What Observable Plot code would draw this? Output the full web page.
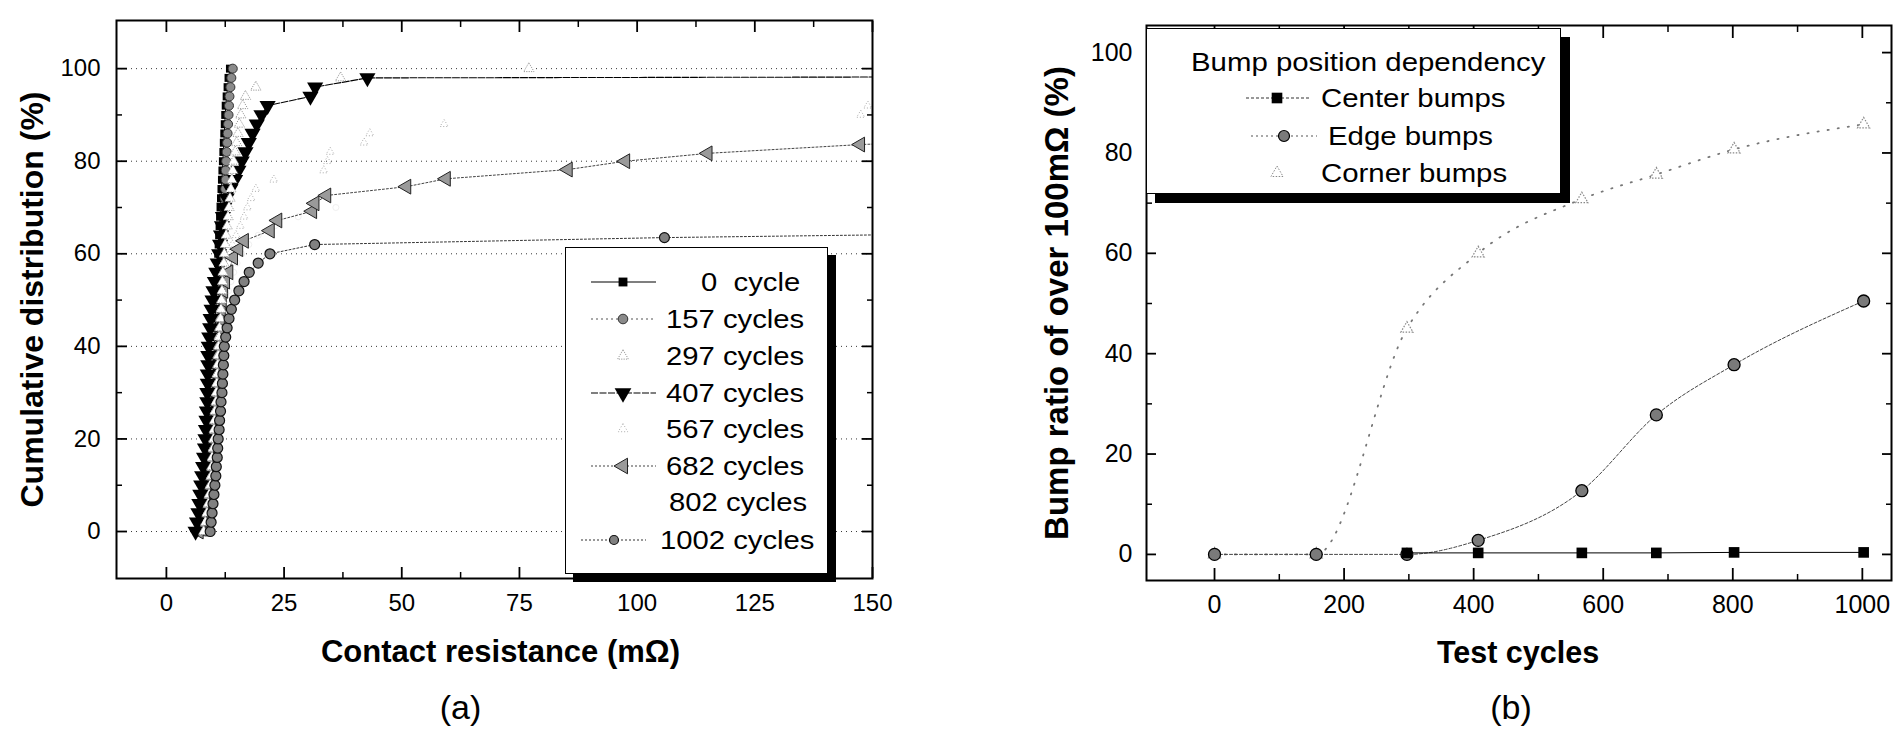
<!DOCTYPE html>
<html><head><meta charset="utf-8">
<script src="https://cdn.jsdelivr.net/npm/d3@7"></script>
<script src="https://cdn.jsdelivr.net/npm/@observablehq/plot@0.6"></script>
<style>
html,body{margin:0;padding:0;background:#fff;}
body{width:1900px;height:731px;position:relative;overflow:hidden;font-family:"Liberation Sans",Arial,sans-serif;color:#000;}
#a,#b{position:absolute;top:0;}
#a{left:0;} #b{left:950px;}
svg{overflow:visible;}
.legend{position:absolute;background:#fff;border:1.5px solid #000;box-sizing:border-box;}
.ltxt{position:absolute;white-space:pre;line-height:1;display:inline-block;transform-origin:0 50%;}
.lsym{position:absolute;overflow:visible;}
</style></head><body>
<div id="a"></div><div id="b"></div>
<div id="legA" class="legend"></div>
<div id="legB" class="legend"></div>
<script>
// ---------- Panel (a) data: cumulative distribution of contact resistance ----------
const pct = [0,2,4,6,8,10,12,14,16,18,20,22,24,26,28,30,32,34,36,38,40,42,44,46,48,50,52,54,56,58,60,62,64,66,68,70,72,74,76,78,80,82,84,86,88,90,92,94,96,98,100];
const r0    = [7.6,8.0,8.3,8.5,8.7,8.9,9.0,9.1,9.2,9.3,9.4,9.5,9.6,9.7,9.7,9.8,9.9,10.0,10.0,10.1,10.2,10.3,10.4,10.4,10.5,10.6,10.7,10.8,10.9,11.0,11.0,11.1,11.2,11.3,11.4,11.5,11.6,11.7,11.8,11.9,12.0,12.1,12.2,12.3,12.4,12.5,12.6,12.8,13.0,13.2,13.5];
const r157  = [8.4,8.8,9.1,9.3,9.5,9.7,9.8,9.9,10.0,10.1,10.2,10.3,10.4,10.5,10.6,10.7,10.8,10.8,10.9,11.0,11.1,11.2,11.3,11.3,11.4,11.5,11.6,11.7,11.7,11.8,11.9,12.0,12.1,12.1,12.2,12.3,12.4,12.5,12.6,12.6,12.7,12.8,12.9,13.0,13.1,13.2,13.3,13.4,13.6,13.8,14.1];
const r297  = [7.9,8.3,8.6,8.9,9.1,9.3,9.5,9.6,9.7,9.9,10.0,10.1,10.2,10.3,10.5,10.6,10.7,10.8,10.9,11.0,11.1,11.2,11.3,11.5,11.6,11.7,11.8,11.9,12.0,12.2,12.3,12.5,12.7,12.9,13.1,13.3,13.5,13.7,13.9,14.1,14.3,14.6,14.9,15.2,15.5,15.8,16.2,16.8,19.0,37.0,77.0];
const r407  = [6.2,6.5,6.8,7.0,7.2,7.4,7.6,7.8,8.0,8.2,8.3,8.4,8.5,8.6,8.7,8.7,8.8,8.8,8.9,8.9,9.0,9.1,9.3,9.4,9.6,9.8,10.0,10.3,10.6,10.9,11.2,11.4,11.6,11.8,12.0,12.3,12.8,13.6,14.6,15.3,16.0,16.8,17.5,18.3,19.2,20.2,21.5,30.6,31.6,42.7,1200];
const r567  = [7.2,7.6,8.0,8.3,8.5,8.7,8.9,9.1,9.3,9.4,9.6,9.7,9.9,10.0,10.2,10.3,10.5,10.6,10.8,11.0,11.1,11.3,11.5,11.7,11.9,12.1,12.3,12.5,12.8,13.1,13.4,14.0,14.8,15.7,16.5,17.2,18.0,19.0,22.8,33.4,34.2,34.8,42.0,43.2,59.0,147.5,149.0,190,260,400,900];
const p682  = [0,2,4,6,8,10,12,14,16,18,20,22,24,26,28,30,32,34,36,38,40,42,44,46,48,50,52,54,56,59.2,61,62.8,65,67.2,69.2,70.9,72.6,74.5,76.2,78.2,80,81.7,83.6,85.5];
const r682  = [6.9,7.3,7.7,8.0,8.2,8.4,8.6,8.8,9.0,9.1,9.3,9.4,9.6,9.7,9.9,10.0,10.2,10.3,10.5,10.6,10.8,11.0,11.2,11.4,11.6,11.8,12.1,12.5,13.2,14.2,15.3,16.5,22.0,23.6,31.0,31.5,34.0,51.0,59.4,85.3,97.5,115,147.4,200];
const r802  = [7.4,7.9,8.2,8.5,8.7,8.9,9.1,9.3,9.4,9.6,9.8,9.9,10.1,10.2,10.4,10.6,10.7,10.9,11.1,11.3,11.5,11.7,11.9,12.2,12.5,12.8,13.2,13.7,14.3,15.0,16.0,17.5,19.5,23.0,28.0,36.0];
const p1002 = [0,2,4,6,8,10,12,14,16,18,20,22,24,26,28,30,32,34,36,38,40,42,44,46,48,50,52,54,56,58,60,62,63.5,66];
const r1002 = [9.3,9.5,9.7,9.9,10.1,10.3,10.5,10.6,10.8,10.9,11.0,11.2,11.3,11.5,11.6,11.8,11.9,12.0,12.1,12.2,12.3,12.6,12.9,13.3,13.8,14.5,15.4,16.5,17.6,19.5,22.0,31.5,105.8,300];
const seriesLabelsA = ["0  cycle","157 cycles","297 cycles","407 cycles","567 cycles","682 cycles","802 cycles","1002 cycles"];
const xTicksA = [0,25,50,75,100,125,150];
const xMinorA = [12.5,37.5,62.5,87.5,112.5,137.5];
const yTicksA = [0,20,40,60,80,100];
const yMinorA = [10,30,50,70,90];
const xTitleA = "Contact resistance (mΩ)";
const yTitleA = "Cumulative distribution (%)";

// ---------- Panel (b) data: bump ratio over 100 mΩ ----------
const cycles = [0,157,297,407,567,682,802,1002];
const centerCycles = [297,407,567,682,802,1002];
const centerBumps = [0.3,0.3,0.3,0.3,0.4,0.4];
const edgeBumps   = [0,0,0,2.8,12.7,27.8,37.8,50.5];
const cornerBumps = [0,0,45,60,70.8,75.7,80.7,85.7];
const seriesLabelsB = ["Center bumps","Edge bumps","Corner bumps"];
const legendTitleB = "Bump position dependency";
const xTicksB = [0,200,400,600,800,1000];
const xMinorB = [100,300,500,700,900];
const yTicksB = [0,20,40,60,80,100];
const yMinorB = [10,30,50,70,90];
const xTitleB = "Test cycles";
const yTitleB = "Bump ratio of over 100mΩ (%)";

const FONT = '"Liberation Sans", Arial, Helvetica, sans-serif';
const zip = (r, p) => r.map((v, i) => ({r: v, p: p[i]}));

// ----- Styles per series -----
const stA = [
  {r: r0,   p: pct,   line: {stroke:"#000", strokeWidth:1}, dot: {symbol:"square", r:4.5, fill:"#000", stroke:"none"}},
  {r: r157, p: pct,   line: {stroke:"#555", strokeWidth:1, strokeDasharray:"2,3"}, dot: {symbol:"circle", r:4.5, fill:"#8a8a8a", stroke:"#333", strokeWidth:1}},
  {r: r297, p: pct,   line: null, dot: {symbol:"triangle", r:3.8, fill:"#fff", stroke:"#999", strokeWidth:1, strokeDasharray:"1.2,1.2"}},
  {r: r407, p: pct,   line: {stroke:"#000", strokeWidth:1.1, strokeDasharray:"7,1.5"}, dot: {symbol:"triangle", rotate:180, r:6, fill:"#000", stroke:"none"}},
  {r: r567, p: pct,   line: null, dot: {symbol:"triangle", r:3, fill:"none", stroke:"#aaa", strokeWidth:1, strokeDasharray:"1,2"}},
  {r: r682, p: p682,  line: {stroke:"#444", strokeWidth:1, strokeDasharray:"2,2"}, dot: {symbol:"triangle", rotate:-90, r:5.5, fill:"#9a9a9a", stroke:"#222", strokeWidth:1}},
  {r: r802, p: pct,   line: null, dot: {symbol:"circle", r:3, fill:"none", stroke:"#f0f0f0", strokeWidth:1}},
  {r: r1002,p: p1002, line: {stroke:"#333", strokeWidth:1, strokeDasharray:"2,2"}, dot: {symbol:"circle", r:5, fill:"#808080", stroke:"#111", strokeWidth:1.2}}
];
const drawOrderA = [6,4,0,1,5,3,2,7];

const seriesMarksA = [];
for (const k of drawOrderA) {
  const s = stA[k];
  const data = zip(s.r, s.p);
  if (s.line) seriesMarksA.push(Plot.line(data, {x:"r", y:"p", clip:true, ...s.line}));
  seriesMarksA.push(Plot.dot(data, {x:"r", y:"p", clip:true, ...s.dot}));
}

const plotA = Plot.plot({
  width: 950, height: 731,
  marginLeft: 116, marginRight: 78, marginTop: 20, marginBottom: 153,
  style: {fontFamily: FONT, color: "#000", background: "transparent", overflow: "visible"},
  x: {domain: [-10.6, 150]},
  y: {domain: [-10.15, 110.4]},
  marks: [
    Plot.gridY(yTicksA, {stroke:"#222", strokeOpacity:0.9, strokeDasharray:"1,4"}),
    ...seriesMarksA,
    Plot.axisX(xTicksA, {anchor:"bottom", tickSize:-11, fill:"none", strokeWidth:1.8}),
    Plot.axisX(xMinorA, {anchor:"bottom", tickSize:-6, fill:"none", strokeWidth:1.5}),
    Plot.axisX(xTicksA, {anchor:"top", tickSize:-11, fill:"none", strokeWidth:1.8}),
    Plot.axisX(xMinorA, {anchor:"top", tickSize:-6, fill:"none", strokeWidth:1.5}),
    Plot.axisY(yTicksA, {anchor:"left", tickSize:-11, fill:"none", strokeWidth:1.8}),
    Plot.axisY(yMinorA, {anchor:"left", tickSize:-6, fill:"none", strokeWidth:1.5}),
    Plot.axisY(yTicksA, {anchor:"right", tickSize:-11, fill:"none", strokeWidth:1.8}),
    Plot.axisY(yMinorA, {anchor:"right", tickSize:-6, fill:"none", strokeWidth:1.5}),
    Plot.axisX(xTicksA, {anchor:"bottom", tickSize:0, tickPadding:15, fontSize:24, tickFormat:"d", label:null}),
    Plot.axisY(yTicksA, {anchor:"left", tickSize:0, tickPadding:16, fontSize:24, tickFormat:"d", label:null}),
    Plot.frame({stroke:"#000", strokeWidth:2}),
    Plot.text([xTitleA], {text: d => d, frameAnchor:"bottom", textAnchor:"middle", lineAnchor:"middle", dx:6, dy:74, fontSize:31, fontWeight:"bold"}),
    Plot.text([yTitleA], {text: d => d, frameAnchor:"left", textAnchor:"middle", lineAnchor:"middle", dx:-84, rotate:-90, fontSize:32, fontWeight:"bold"}),
    Plot.text(["(a)"], {text: d => d, frameAnchor:"bottom", textAnchor:"middle", lineAnchor:"middle", dx:-34, dy:130, fontSize:34})
  ]
});
document.getElementById("a").append(plotA);

// ----- Panel (b) -----
const centerData = centerCycles.map((c, i) => ({c, v: centerBumps[i]}));
const edgeData = cycles.map((c, i) => ({c, v: edgeBumps[i]}));
const cornerData = cycles.map((c, i) => ({c, v: cornerBumps[i]}));

const plotB = Plot.plot({
  width: 950, height: 731,
  marginLeft: 196, marginRight: 9, marginTop: 25, marginBottom: 151,
  style: {fontFamily: FONT, color: "#000", background: "transparent", overflow: "visible"},
  x: {domain: [-105, 1045]},
  y: {domain: [-5.2, 105.4]},
  marks: [
    Plot.line(cornerData, {x:"c", y:"v", curve:"monotone-x", stroke:"#777", strokeWidth:1.8, strokeDasharray:"1.2,9", strokeLinecap:"round", clip:true}),
    Plot.line(edgeData, {x:"c", y:"v", curve:"monotone-x", stroke:"#444", strokeWidth:1, strokeDasharray:"3,2", clip:true}),
    Plot.line(centerData, {x:"c", y:"v", stroke:"#000", strokeWidth:1, clip:true}),
    Plot.dot(cornerData, {x:"c", y:"v", symbol:"triangle", r:4.5, fill:"#fff", stroke:"#888", strokeWidth:1.2, strokeDasharray:"1.5,1.5", clip:true}),
    Plot.dot(edgeData, {x:"c", y:"v", symbol:"circle", r:6, fill:"#7a7a7a", stroke:"#000", strokeWidth:1.3, clip:true}),
    Plot.dot(centerData, {x:"c", y:"v", symbol:"square", r:6, fill:"#000", stroke:"none", clip:true}),
    Plot.axisX(xTicksB, {anchor:"bottom", tickSize:-12, fill:"none", strokeWidth:1.8}),
    Plot.axisX(xMinorB, {anchor:"bottom", tickSize:-6, fill:"none", strokeWidth:1.5}),
    Plot.axisX(xTicksB, {anchor:"top", tickSize:-12, fill:"none", strokeWidth:1.8}),
    Plot.axisX(xMinorB, {anchor:"top", tickSize:-6, fill:"none", strokeWidth:1.5}),
    Plot.axisY(yTicksB, {anchor:"left", tickSize:-10, fill:"none", strokeWidth:1.8}),
    Plot.axisY(yMinorB, {anchor:"left", tickSize:-6, fill:"none", strokeWidth:1.5}),
    Plot.axisY(yTicksB, {anchor:"right", tickSize:-10, fill:"none", strokeWidth:1.8}),
    Plot.axisY(yMinorB, {anchor:"right", tickSize:-6, fill:"none", strokeWidth:1.5}),
    Plot.axisX(xTicksB, {anchor:"bottom", tickSize:0, tickPadding:15, fontSize:25, tickFormat:"d", label:null}),
    Plot.axisY(yTicksB, {anchor:"left", tickSize:0, tickPadding:14, fontSize:25, tickFormat:"d", label:null}),
    Plot.frame({stroke:"#000", strokeWidth:2}),
    Plot.text([xTitleB], {text: d => d, frameAnchor:"bottom", textAnchor:"middle", lineAnchor:"middle", dx:-1, dy:73, fontSize:30.5, fontWeight:"bold"}),
    Plot.text([yTitleB], {text: d => d, frameAnchor:"left", textAnchor:"middle", lineAnchor:"middle", dx:-89, rotate:-90, fontSize:33, fontWeight:"bold"}),
    Plot.text(["(b)"], {text: d => d, frameAnchor:"bottom", textAnchor:"middle", lineAnchor:"middle", dx:-8, dy:128, fontSize:34})
  ]
});
document.getElementById("b").append(plotB);

// ----- Legends (HTML boxes with small symbol glyphs) -----
const SYM = {square: d3.symbolSquare, circle: d3.symbolCircle, triangle: d3.symbolTriangle};
function addRow(box, {label, tx, cy, sx, line, sym, fontSize, scaleX}) {
  const ns = "http://www.w3.org/2000/svg";
  if (line || sym) {
    const svg = document.createElementNS(ns, "svg");
    svg.setAttribute("class", "lsym");
    svg.setAttribute("width", 1); svg.setAttribute("height", 1);
    svg.style.left = "0px"; svg.style.top = cy + "px";
    if (line) {
      const l = document.createElementNS(ns, "line");
      l.setAttribute("x1", line.x1); l.setAttribute("x2", line.x2);
      l.setAttribute("y1", 0); l.setAttribute("y2", 0);
      l.setAttribute("stroke", line.stroke); l.setAttribute("stroke-width", line.width || 1.2);
      if (line.dash) l.setAttribute("stroke-dasharray", line.dash);
      svg.append(l);
    }
    if (sym) {
      const p = document.createElementNS(ns, "path");
      p.setAttribute("d", d3.symbol(SYM[sym.type], Math.PI * sym.r * sym.r)());
      p.setAttribute("transform", `translate(${sx},0) rotate(${sym.rotate || 0})`);
      p.setAttribute("fill", sym.fill); p.setAttribute("stroke", sym.stroke || "none");
      p.setAttribute("stroke-width", sym.sw || 1);
      if (sym.dash) p.setAttribute("stroke-dasharray", sym.dash);
      svg.append(p);
    }
    box.append(svg);
  }
  const t = document.createElement("span");
  t.className = "ltxt";
  t.textContent = label;
  t.style.fontSize = fontSize + "px";
  t.style.left = tx + "px";
  t.style.top = (cy - fontSize / 2) + "px";
  t.style.transform = `scaleX(${scaleX})`;
  box.append(t);
}

const legA = document.getElementById("legA");
Object.assign(legA.style, {left:"565px", top:"247px", width:"263px", height:"327px", boxShadow:"8px 8px 0 #000"});
const rowYA = [34, 71, 108, 145, 181, 218, 254, 292];
const legStyleA = [
  {tx:135, sx:57, line:{x1:25,x2:90,stroke:"#000"}, sym:{type:"square", r:5, fill:"#000"}},
  {tx:100, sx:57, line:{x1:25,x2:90,stroke:"#555",dash:"2,3"}, sym:{type:"circle", r:4.8, fill:"#8a8a8a", stroke:"#333"}},
  {tx:100, sx:57, line:null, sym:{type:"triangle", r:4, fill:"#fff", stroke:"#999", dash:"1.2,1.2"}},
  {tx:100, sx:57, line:{x1:25,x2:90,stroke:"#000",dash:"7,1.5"}, sym:{type:"triangle", r:6.2, fill:"#000", rotate:180}},
  {tx:100, sx:57, line:null, sym:{type:"triangle", r:3.5, fill:"none", stroke:"#aaa", dash:"1,2"}},
  {tx:100, sx:57, line:{x1:25,x2:90,stroke:"#444",dash:"2,2"}, sym:{type:"triangle", r:5.8, fill:"#9a9a9a", stroke:"#222", rotate:-90}},
  {tx:103, sx:57, line:null, sym:null},
  {tx:94,  sx:48, line:{x1:15,x2:80,stroke:"#333",dash:"2,2"}, sym:{type:"circle", r:4.5, fill:"#808080", stroke:"#111", sw:1.2}}
];
seriesLabelsA.forEach((label, i) => addRow(legA, {label, cy: rowYA[i], fontSize: 25, scaleX: 1.17, ...legStyleA[i]}));

const legB = document.getElementById("legB");
Object.assign(legB.style, {left:"1146px", top:"28px", width:"415px", height:"166px", boxShadow:"9px 9px 0 #000"});
addRow(legB, {label: legendTitleB, tx:44, cy:33, sx:0, line:null, sym:null, fontSize:26, scaleX:1.13});
const legStyleB = [
  {tx:174, cy:69,  sx:130, line:{x1:99,x2:164,stroke:"#333",dash:"3,2"}, sym:{type:"square", r:6, fill:"#000"}},
  {tx:181, cy:107, sx:137, line:{x1:104,x2:170,stroke:"#555",dash:"2,3"}, sym:{type:"circle", r:5.5, fill:"#7a7a7a", stroke:"#000", sw:1.2}},
  {tx:174, cy:144, sx:130, line:null, sym:{type:"triangle", r:4.5, fill:"#fff", stroke:"#888", dash:"1.5,1.5"}}
];
seriesLabelsB.forEach((label, i) => addRow(legB, {label, fontSize: 26, scaleX: 1.13, ...legStyleB[i]}));
</script></body></html>
